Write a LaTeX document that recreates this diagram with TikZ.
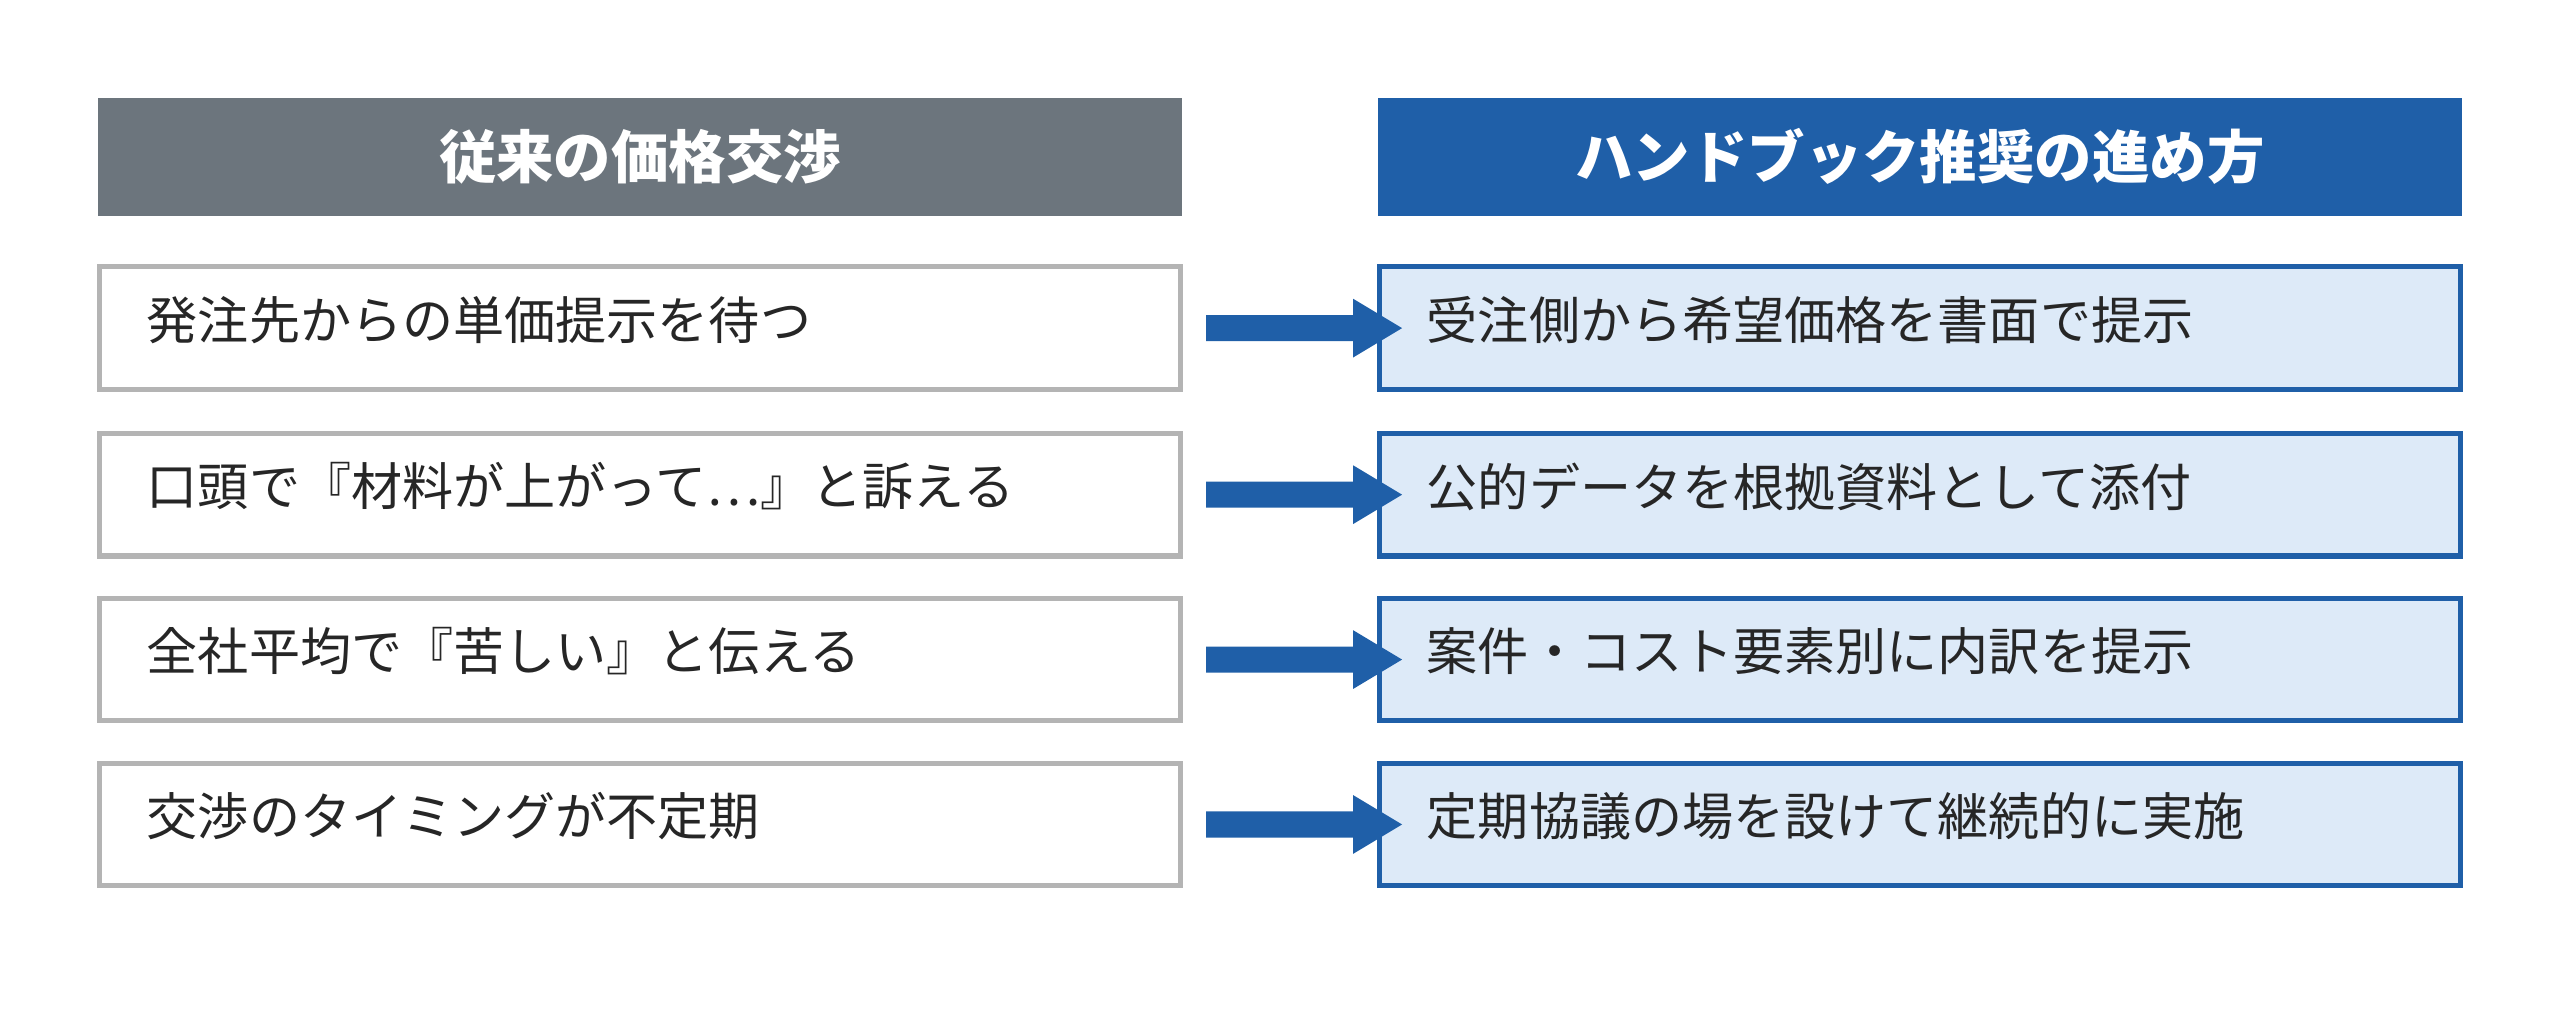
\documentclass[tikz,border=0pt]{standalone}
\usepackage{fontspec}
\setmainfont{Noto Sans CJK JP}
\usetikzlibrary{arrows.meta, positioning}
\definecolor{hdgray}{HTML}{6C757D}
\definecolor{hdblue}{HTML}{1F5FA8}
\definecolor{boxblue}{HTML}{DDEAF8}
\definecolor{boxgray}{HTML}{B4B4B4}

\begin{document}
\begin{tikzpicture}[
    x=0.01cm, y=-0.01cm,
    head/.style = {minimum width=6.64cm, minimum height=0.72cm, text=white, font=\fontsize{10}{12}\selectfont\bfseries, inner sep=0pt},
    oldbox/.style = {draw=boxgray, line width=0.9pt, fill=white, minimum width=6.62cm, minimum height=0.75cm, inner sep=0pt},
    newbox/.style = {draw=hdblue, line width=0.9pt, fill=boxblue, minimum width=6.62cm, minimum height=0.75cm, inner sep=0pt},
    txt/.style = {anchor=west, inner sep=0pt, font=\fontsize{8.9}{11}\selectfont, text=black!85},
    pil/.style = {draw=none, fill=hdblue}
    ]
  \useasboundingbox (0,0) rectangle (1568,628);

  \node[head, fill=hdgray] (oldhead) at (392,96) {従来の価格交渉};
  \node[head, fill=hdblue] (newhead) at (1176,96) {ハンドブック推奨の進め方};

  \foreach \i/\y/\a/\b in {
      1/201/発注先からの単価提示を待つ/受注側から希望価格を書面で提示,
      2/303/口頭で『材料が上がって…』と訴える/公的データを根拠資料として添付,
      3/404/全社平均で『苦しい』と伝える/案件・コスト要素別に内訳を提示,
      4/505/交渉のタイミングが不定期/定期協議の場を設けて継続的に実施} {
    \node[oldbox] (old\i) at (392,\y) {};
    \node[txt] at ([xshift=0.3cm, yshift=0.05cm]old\i.west) {\a};
    \node[newbox] (new\i) at (1176,\y) {};
    \node[txt] at ([xshift=0.3cm, yshift=0.05cm]new\i.west) {\b};
    \fill[pil] ([xshift=0.14cm, yshift=0.08cm]old\i.east) -- ++(90,0) -- ++(0,-10)
      -- ++(30,18) -- ++(-30,18) -- ++(0,-10) -- ++(-90,0) -- cycle;
  }
\end{tikzpicture}
\end{document}
